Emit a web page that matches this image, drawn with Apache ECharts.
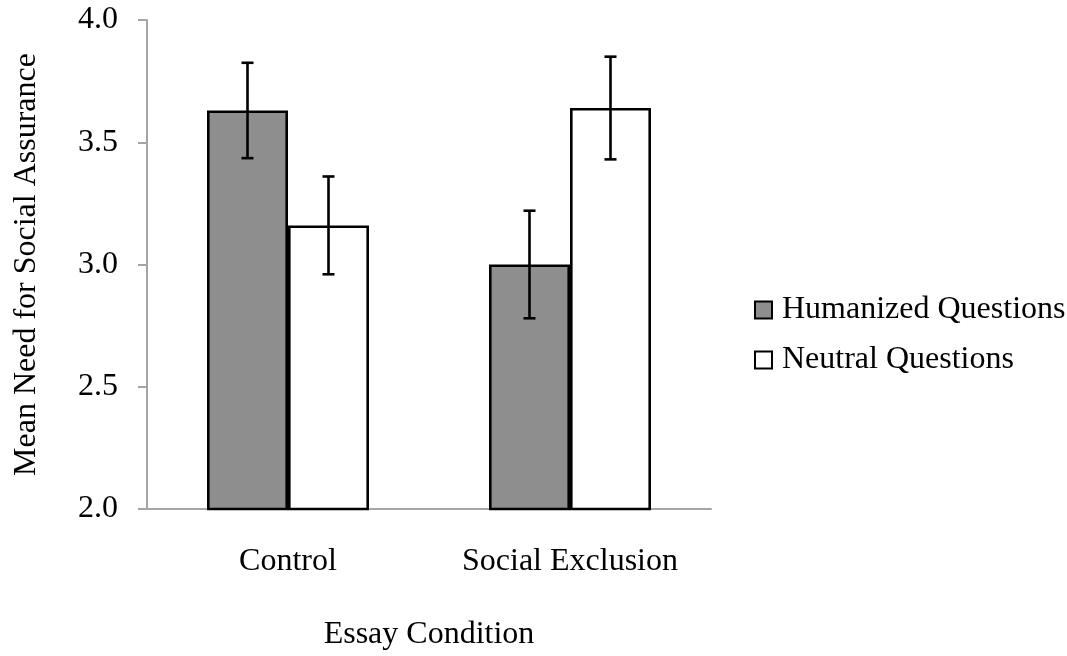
<!DOCTYPE html>
<html>
<head>
<meta charset="utf-8">
<script src="https://cdn.jsdelivr.net/npm/echarts@6/dist/echarts.min.js"></script>
<style>
  html, body { margin: 0; padding: 0; background: #ffffff; }
  #chart { width: 1067px; height: 656px; }
</style>
</head>
<body>
<div id="chart"></div>
<script>
// Essay condition groups
const categories = ['Control', 'Social Exclusion'];
// Mean need for social assurance, by question type
const humanizedMeans = [3.63, 3.00];
const neutralMeans = [3.16, 3.64];
// Standard errors (half-length of each error bar)
const humanizedErrors = [0.195, 0.22];
const neutralErrors = [0.20, 0.21];
// Y-axis ticks
const yTicks = [2.0, 2.5, 3.0, 3.5, 4.0];

const FONT = "'Liberation Serif', 'Times New Roman', serif";
const FS = 32;
const BAR_W = 81;

function errorSeries(name, means, errors, offsetSign) {
  return {
    name: name + ' error',
    type: 'custom',
    z: 10,
    silent: true,
    data: means.map((m, i) => [i, m - errors[i], m + errors[i]]),
    renderItem: function (params, api) {
      const cat = api.value(0);
      const lo = api.coord([cat, api.value(1)]);
      const hi = api.coord([cat, api.value(2)]);
      const x = lo[0] + offsetSign * BAR_W / 2;
      const cap = 6;
      const style = { stroke: '#000', lineWidth: 2.6 };
      return {
        type: 'group',
        children: [
          { type: 'line', shape: { x1: x, y1: hi[1], x2: x, y2: lo[1] }, style: style },
          { type: 'line', shape: { x1: x - cap, y1: hi[1], x2: x + cap, y2: hi[1] }, style: style },
          { type: 'line', shape: { x1: x - cap, y1: lo[1], x2: x + cap, y2: lo[1] }, style: style }
        ]
      };
    }
  };
}

const chart = echarts.init(document.getElementById('chart'));
chart.setOption({
  animation: false,
  backgroundColor: '#ffffff',
  textStyle: { fontFamily: FONT },
  grid: { left: 147, top: 20, width: 564, height: 493, containLabel: false },
  legend: {
    orient: 'vertical',
    left: 754,
    top: 294,
    padding: 0,
    itemWidth: 17,
    itemHeight: 17,
    itemGap: 18,
    icon: 'rect',
    data: ['Humanized Questions', 'Neutral Questions'],
    textStyle: { fontFamily: FONT, fontSize: FS, color: '#000', padding: [0, 0, 0, 5] }
  },
  xAxis: {
    type: 'category',
    data: categories,
    name: 'Essay Condition',
    nameLocation: 'middle',
    nameGap: 110,
    nameTextStyle: { fontFamily: FONT, fontSize: FS, color: '#000' },
    axisLine: { lineStyle: { color: '#a6a6a6', width: 2 } },
    axisTick: { show: false },
    axisLabel: { fontFamily: FONT, fontSize: FS, color: '#000', margin: 37 }
  },
  yAxis: {
    type: 'value',
    min: yTicks[0],
    max: yTicks[yTicks.length - 1],
    interval: 0.5,
    name: 'Mean Need for Social Assurance',
    nameLocation: 'middle',
    nameGap: 104,
    nameTextStyle: { fontFamily: FONT, fontSize: FS, color: '#000' },
    axisLine: { show: true, lineStyle: { color: '#a6a6a6', width: 2 } },
    axisTick: { show: true, length: 9, lineStyle: { color: '#a6a6a6', width: 2 } },
    splitLine: { show: false },
    axisLabel: {
      fontFamily: FONT, fontSize: FS, color: '#000', margin: 29,
      formatter: v => v.toFixed(1)
    }
  },
  series: [
    {
      name: 'Humanized Questions',
      type: 'bar',
      data: humanizedMeans,
      barWidth: BAR_W,
      barGap: '0%',
      itemStyle: { color: '#8e8e8e', borderColor: '#000', borderWidth: 2.6 }
    },
    {
      name: 'Neutral Questions',
      type: 'bar',
      data: neutralMeans,
      barWidth: BAR_W,
      barGap: '0%',
      itemStyle: { color: '#ffffff', borderColor: '#000', borderWidth: 2.6 }
    },
    errorSeries('Humanized Questions', humanizedMeans, humanizedErrors, -1),
    errorSeries('Neutral Questions', neutralMeans, neutralErrors, 1)
  ]
});
</script>
</body>
</html>
